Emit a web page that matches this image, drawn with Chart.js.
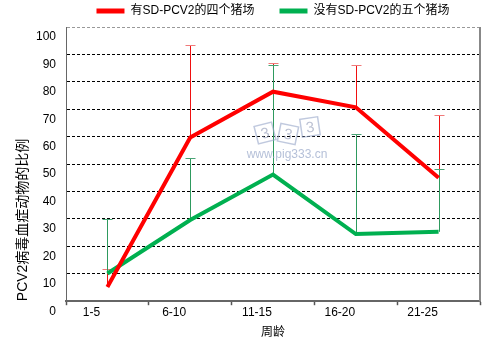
<!DOCTYPE html>
<html>
<head>
<meta charset="utf-8">
<script src="https://cdn.jsdelivr.net/npm/chart.js@4/dist/chart.umd.min.js"></script>
<style>
  html, body { margin: 0; padding: 0; background: #fff; }
  #wrap { width: 491px; height: 351px; }
</style>
</head>
<body>
<div id="wrap"><canvas id="chart" width="491" height="351"></canvas></div>
<script>
const categories = ['1-5', '6-10', '11-15', '16-20', '21-25'];
const seriesNames = ['有SD-PCV2的四个猪场', '没有SD-PCV2的五个猪场'];
const redValues = [5.2, 59.7, 76.4, 70.7, 45.0];
const redUpper = [11.6, 93.4, 86.7, 86.2, 68.0];
const greenValues = [10.1, 29.6, 46.2, 24.5, 25.3];
const greenUpper = [29.9, 52.1, 86.2, 61.1, 48.1];
const yTicks = [0, 10, 20, 30, 40, 50, 60, 70, 80, 90, 100];

const FONT = "Arial, 'Liberation Sans', 'Noto Sans CJK SC', sans-serif";

// thin upper error bars with a short cap
const errorBars = {
  id: 'errorBars',
  beforeDatasetsDraw(chart) {
    const { ctx, scales: { x, y } } = chart;
    chart.data.datasets.forEach((ds) => {
      if (!ds.errorUpper) return;
      ctx.save();
      ctx.lineWidth = 1;
      ds.data.forEach((value, i) => {
        const px = Math.round(x.getPixelForValue(i)) + 0.5;
        const y0 = y.getPixelForValue(value);
        const y1 = Math.round(y.getPixelForValue(ds.errorUpper[i])) + 0.5;
        ctx.strokeStyle = ds.errorColor;
        ctx.beginPath();
        ctx.moveTo(px, y0);
        ctx.lineTo(px, y1);
        ctx.stroke();
        ctx.strokeStyle = ds.capColor;
        ctx.beginPath();
        ctx.moveTo(px - 5, y1);
        ctx.lineTo(px + 5, y1);
        ctx.stroke();
      });
      ctx.restore();
    });
  },
};

// faint site watermark and the grey right frame line
const frame = {
  id: 'frame',
  beforeDatasetsDraw(chart) {
    const { ctx, chartArea: a } = chart;
    ctx.save();
    ctx.strokeStyle = 'rgba(150, 165, 200, 0.6)';
    ctx.fillStyle = 'rgba(140, 150, 180, 0.6)';
    ctx.lineWidth = 1.5;
    ctx.textAlign = 'center';
    ctx.textBaseline = 'middle';
    ctx.font = '15px ' + FONT;
    [[199, 106, -0.25], [222, 107, 0.2], [244, 100, -0.15]].forEach(([dx, dy, rot]) => {
      ctx.save();
      ctx.translate(a.left + dx, a.top + dy);
      ctx.rotate(rot);
      ctx.strokeRect(-9, -9, 18, 18);
      ctx.fillText('3', 0, 1);
      ctx.restore();
    });
    ctx.fillStyle = 'rgba(150, 165, 200, 0.7)';
    ctx.font = '12px ' + FONT;
    ctx.fillText('www.pig333.cn', a.left + 221, a.top + 128);
    ctx.restore();
  },
  afterDraw(chart) {
    const { ctx, chartArea: a } = chart;
    ctx.save();
    ctx.strokeStyle = '#888';
    ctx.lineWidth = 2;
    ctx.beginPath();
    ctx.moveTo(a.right, a.top);
    ctx.lineTo(a.right, a.bottom);
    ctx.stroke();
    ctx.restore();
  },
};

const chart = new Chart(document.getElementById('chart'), {
  type: 'line',
  data: {
    labels: categories,
    datasets: [
      {
        label: seriesNames[0],
        data: redValues,
        errorUpper: redUpper,
        errorColor: '#f01010',
        capColor: '#f07a7a',
        borderColor: '#ff0000',
        backgroundColor: '#ff0000',
        borderWidth: 4,
        pointRadius: 0,
        tension: 0,
      },
      {
        label: seriesNames[1],
        data: greenValues,
        errorUpper: greenUpper,
        errorColor: '#2e9a5e',
        capColor: '#4aa476',
        borderColor: '#00b050',
        backgroundColor: '#00b050',
        borderWidth: 4,
        pointRadius: 0,
        tension: 0,
      },
    ],
  },
  options: {
    responsive: false,
    animation: false,
    layout: { padding: { top: -20, left: 11, right: 11, bottom: 7 } },
    plugins: {
      tooltip: { enabled: false },
      legend: {
        position: 'top',
        fullSize: false,
        labels: {
          color: '#000',
          font: { size: 12, family: FONT },
          boxWidth: 28,
          boxHeight: 5,
          padding: 25,
          generateLabels: (c) =>
            Chart.defaults.plugins.legend.labels.generateLabels(c).map((l) => ({ ...l, lineWidth: 0 })),
        },
      },
    },
    scales: {
      x: {
        offset: true,
        grid: {
          offset: true,
          drawOnChartArea: false,
          drawTicks: true,
          tickLength: 4,
          tickColor: '#555',
          tickWidth: 1.5,
        },
        border: { color: '#666', width: 2 },
        ticks: { color: '#000', font: { size: 12, family: FONT }, padding: 0, labelOffset: -16 },
        title: {
          display: true,
          text: '周龄',
          color: '#000',
          font: { size: 12, family: FONT },
          padding: { top: 6, bottom: 4 },
        },
      },
      y: {
        min: 0,
        max: 100,
        afterBuildTicks: (scale) => {
          scale.ticks = yTicks.map((v) => ({ value: v }));
        },
        afterFit: (scale) => {
          scale.width = 55;
        },
        grid: {
          drawTicks: false,
          color: (c) => (c.tick && c.tick.value === 100 ? '#999' : '#000'),
          lineWidth: 1,
        },
        border: { color: '#666', width: 1, dash: [3, 2] },
        ticks: { color: '#000', font: { size: 12, family: FONT }, padding: 10, labelOffset: 10 },
        title: {
          display: true,
          text: 'PCV2病毒血症动物的比例',
          align: 'start',
          color: '#000',
          font: { size: 14, family: FONT },
          padding: { top: 4, bottom: 4 },
        },
      },
    },
  },
  plugins: [errorBars, frame],
});
</script>
</body>
</html>
